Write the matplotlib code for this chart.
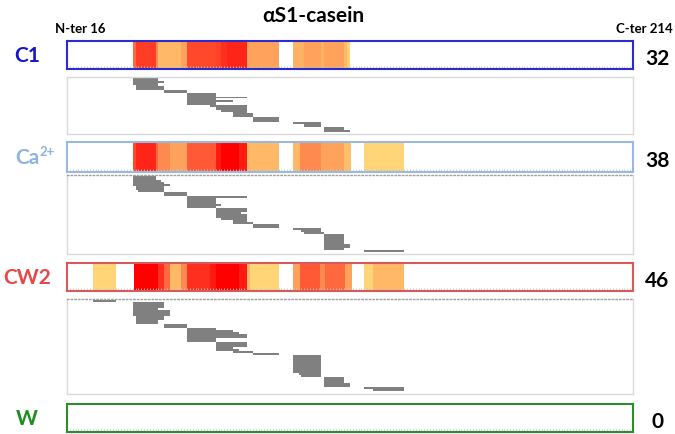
import numpy as np
import matplotlib.pyplot as plt
from matplotlib.colors import LinearSegmentedColormap, Normalize

plt.rcParams['font.family'] = ['Lato', 'DejaVu Sans']

# residue range of alphaS1-casein shown
res_min, res_max = 16, 214

labels = ['C1', 'Ca', 'CW2', 'W']
label_colors = ['#1515cc', '#8db3e2', '#e8474a', '#1e8c1e']
edge_colors = ['#2b2bd0', '#9ab8e0', '#d65a5a', '#2e8b2e']
n_peptides = [32, 38, 46, 0]

# coverage heat map segments (start residue, end residue, coverage level 1-9)
c1_start = [39, 40, 47, 48, 56, 58, 68, 70, 72, 79, 95, 99, 105, 106, 113, 114]
c1_end   = [40, 47, 48, 56, 58, 68, 70, 72, 79, 90, 99, 105, 106, 113, 114, 115]
c1_level = [5, 6.5, 4, 2, 3, 6, 6.3, 7, 7.5, 3, 2.3, 3, 2.3, 3, 2, 1.2]

ca_start = [39, 40, 47, 48, 52, 58, 68, 70, 76, 79, 95, 97.5, 105, 113, 120]
ca_end   = [40, 47, 48, 52, 58, 68, 70, 76, 79, 90, 97.5, 105, 113, 115.5, 134]
ca_level = [6, 7.5, 5, 4, 3, 5.5, 8, 9, 8, 2, 2, 4, 3, 1.8, 1]

cw_start = [25, 39.5, 48, 50, 52, 56, 58, 66, 68, 76, 79, 80, 95, 97.5, 104.5, 106.3, 113.2, 120, 123]
cw_end   = [33, 48, 50, 52, 56, 58, 66, 68, 76, 79, 80, 90, 97.5, 104.5, 106.3, 113.2, 115.6, 123, 134]
cw_level = [1, 9, 7, 5, 2, 4, 7, 8, 9, 8, 2, 1, 3, 5.5, 4, 5, 3, 1, 2]

w_start, w_end, w_level = [], [], []

# identified peptides (start, end residue), one row each
c1_pep_start = [39, 39, 39, 39, 40, 40, 40, 50, 50, 58, 58, 58, 58, 58, 58, 58,
                66, 68, 68, 70, 74, 74, 74, 81, 81, 81, 95, 99, 99, 106, 106, 106]
c1_pep_end   = [48, 48, 50, 48, 48, 50, 50, 58, 58, 68, 68, 79, 68, 74, 68, 68,
                79, 79, 79, 79, 79, 81, 81, 90, 90, 90, 105, 105, 105, 113, 113, 115]

ca_pep_start = [39, 39, 39, 39, 39, 40, 40, 41, 50, 50, 58, 58, 58, 58, 58, 58,
                68, 68, 68, 68, 68, 70, 74, 74, 81, 81, 95, 98, 99,
                106, 106, 106, 106, 106, 106, 106, 106, 120]
ca_pep_end   = [47, 47, 49, 50, 52, 50, 50, 50, 58, 58, 79, 68, 68, 68, 70, 68,
                79, 79, 77, 79, 79, 79, 79, 81, 90, 90, 105, 105, 106,
                113, 113, 113, 113, 113, 115, 115, 113, 134]

cw_pep_start = [25, 39, 39, 39, 39, 39, 39, 39, 40, 40, 40, 40, 50, 50,
                58, 58, 58, 58, 58, 58, 58, 68, 68, 68, 68, 68, 74, 81,
                95, 95, 95, 95, 95, 95, 95, 95, 95, 97, 98,
                106, 106, 106, 106, 106, 120, 123]
cw_pep_end   = [33, 50, 50, 50, 48, 52, 52, 52, 50, 50, 48, 48, 58, 58,
                68, 74, 76, 79, 79, 68, 68, 79, 79, 79, 74, 76, 81, 90,
                105, 105, 105, 105, 105, 105, 105, 105, 105, 105, 105,
                113, 113, 113, 115, 115, 134, 134]

heat = [(c1_start, c1_end, c1_level), (ca_start, ca_end, ca_level),
        (cw_start, cw_end, cw_level), (w_start, w_end, w_level)]
peps = [(c1_pep_start, c1_pep_end), (ca_pep_start, ca_pep_end),
        (cw_pep_start, cw_pep_end)]

cmap = LinearSegmentedColormap.from_list(
    'cov', ['#ffd577', '#ffb866', '#ffa25c', '#ff8a50', '#ff6a40',
            '#ff4a2a', '#ff3020', '#ff1a10', '#ff0000'])
norm = Normalize(1, 9)

W, H = 675, 435
fig = plt.figure(figsize=(6.75, 4.35), dpi=100)

def box(y0, y1):
    return [67 / W, 1 - y1 / H, 566 / W, (y1 - y0) / H]

band_pos = [(42, 70), (143, 173), (264, 292), (405, 433)]
panel_pos = [(78, 135), (176, 255), (300, 395)]
panel_ylim = [(32.7, -1.1), (38.5, -1.0), (47.0, -1.0)]

for i in range(4):
    ax = fig.add_axes(box(*band_pos[i]))
    s, e, lv = heat[i]
    if len(s):
        ax.barh(0, np.array(e) - np.array(s), left=s, height=1,
                color=cmap(norm(np.array(lv))))
    ax.set_xlim(res_min, res_max)
    ax.set_ylim(-0.5, 0.5)
    ax.set_yticks([])
    ax.set_xticks([])
    ax.set_xticks(np.arange(res_min, res_max + 1), minor=True)
    ax.tick_params(axis='x', which='minor', direction='in', length=2,
                   width=0.6, color='#c8c8c8', labelbottom=False)
    for sp in ax.spines.values():
        sp.set_color(edge_colors[i])
        sp.set_linewidth(1.5)
    yc = 1 - (band_pos[i][0] + band_pos[i][1]) / 2 / H
    if labels[i] == 'Ca':
        fig.text(39 / W, yc, 'Ca', color=label_colors[i], fontsize=15,
                 fontweight='bold', ha='right', va='center')
        fig.text(39 / W, yc + 6 / H, '2+', color=label_colors[i], fontsize=9.5,
                 fontweight='bold', ha='left', va='center')
    else:
        fig.text(27 / W, yc, labels[i], color=label_colors[i], fontsize=15,
                 fontweight='bold', ha='center', va='center')
    fig.text(657 / W, yc - 3 / H, str(n_peptides[i]), color='black', fontsize=15,
             fontweight='bold', ha='center', va='center')

for i in range(3):
    ax = fig.add_axes(box(*panel_pos[i]))
    s, e = peps[i]
    rows = np.arange(len(s))
    ax.barh(rows, np.array(e) - np.array(s), left=s, height=1.0,
            color='#808080')
    ax.set_xlim(res_min, res_max)
    ax.set_ylim(*panel_ylim[i])
    ax.set_xticks([])
    ax.set_yticks([])
    for sp in ax.spines.values():
        sp.set_color('#d9d9d9')
        sp.set_linewidth(1)
    if i > 0:
        ax.spines['top'].set_linestyle(':')
        ax.spines['top'].set_color('#a0a0a0')

fig.text(313 / W, 1 - 16 / H, 'αS1-casein', fontsize=15, fontweight='bold',
         ha='center', va='center')
fig.text(80 / W, 1 - 29 / H, 'N-ter 16', fontsize=9.5, fontweight='bold',
         ha='center', va='center')
fig.text(644 / W, 1 - 29 / H, 'C-ter 214', fontsize=9.5, fontweight='bold',
         ha='center', va='center')

fig.savefig('out.png', dpi=100)
